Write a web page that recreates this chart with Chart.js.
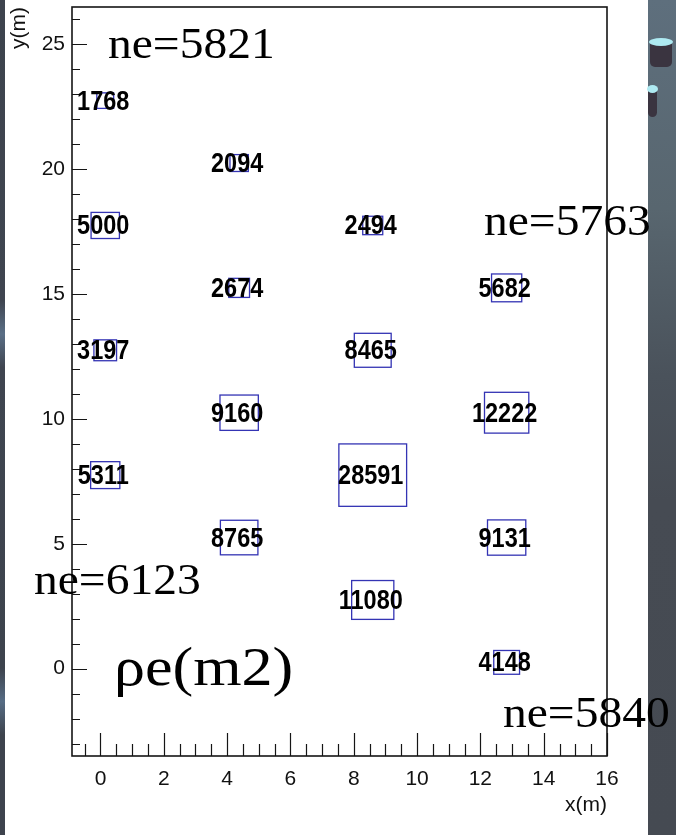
<!DOCTYPE html>
<html>
<head>
<meta charset="utf-8">
<title>ρe(m2)</title>
<script src="https://cdn.jsdelivr.net/npm/chart.js@4.4.1/dist/chart.umd.min.js"></script>
<style>
  html, body { margin: 0; padding: 0; }
  body { width: 676px; height: 835px; position: relative; overflow: hidden; background: #fff; }
  #leftStrip { position: absolute; left: 0; top: 0; width: 5px; height: 835px;
    background: linear-gradient(#3d434d 0%, #3f4550 36%, #5a6f86 40%, #3f4550 44%, #3d434d 80%, #566c84 84%, #3d434d 88%); }
  #rightStrip { position: absolute; left: 648px; top: 0; width: 28px; height: 835px;
    background: linear-gradient(#5e6f7d 0%, #58666f 25%, #4a525b 45%, #464b53 60%, #454a52 100%); }
  .cyl { position: absolute; background: #3a3440; border-radius: 0 0 5px 5px; }
  .cyl::before { content: ''; position: absolute; left: -1px; right: -1px; top: -4px; height: 8px;
    border-radius: 50%; background: #aeeaf2; }
  #c { position: absolute; left: 0; top: 0; }
</style>
</head>
<body>
<div id="leftStrip"></div>
<div id="rightStrip"></div>
<div class="cyl" style="left:650px; top:42px; width:22px; height:25px;"></div>
<div class="cyl" style="left:648px; top:89px; width:9px; height:28px;"></div>
<canvas id="c" width="676" height="835"></canvas>
<script>
// Detector positions (m) and electron counts per detector
const detX = [0.15, 4.38, 0.15, 8.6, 4.38, 12.83, 0.15, 8.6, 4.38, 12.83, 0.15, 8.6, 4.38, 12.83, 8.6, 12.83];
const detY = [22.75, 20.25, 17.75, 17.75, 15.25, 15.25, 12.75, 12.75, 10.25, 10.25, 7.75, 7.75, 5.25, 5.25, 2.75, 0.25];
const counts = [1768, 2094, 5000, 2494, 2674, 5682, 3197, 8465, 9160, 12222, 5311, 28591, 8765, 9131, 11080, 4148];

// Axis tick labels
const xTickValues = [0, 2, 4, 6, 8, 10, 12, 14, 16];
const yTickValues = [0, 5, 10, 15, 20, 25];

// Annotations
const neLabels = ['ne=5821', 'ne=5763', 'ne=6123', 'ne=5840'];
const densityLabel = 'ρe(m2)';

// Cell size (m) of the largest box; other boxes scale with sqrt(count)
const CELL_W = 2.14;
const CELL_H = 2.5;

const SANS = '"Liberation Sans", Arial, Helvetica, sans-serif';
const SERIF = '"Liberation Serif", "Times New Roman", serif';

const points = counts.map((v, i) => ({ x: detX[i], y: detY[i], v }));

// Frame and inward ticks, ROOT style
const framePlugin = {
  id: 'frame',
  beforeDatasetsDraw(chart) {
    const { ctx, chartArea: a, scales: { x: xs, y: ys } } = chart;
    ctx.save();
    ctx.strokeStyle = '#151515';
    ctx.lineWidth = 1.2;
    ctx.beginPath();
    for (let v = -0.5; v <= 16.001; v += 0.5) {
      const major = Math.abs(v / 2 - Math.round(v / 2)) < 1e-6;
      const px = Math.round(xs.getPixelForValue(v)) + 0.5;
      const len = major ? 23 : 12;
      ctx.moveTo(px, a.bottom);
      ctx.lineTo(px, a.bottom - len);
    }
    for (let v = -3; v <= 26; v += 1) {
      const major = v % 5 === 0;
      const py = Math.round(ys.getPixelForValue(v)) + 0.5;
      const len = major ? 15 : 8;
      ctx.moveTo(a.left, py);
      ctx.lineTo(a.left + len, py);
    }
    ctx.stroke();
    ctx.lineWidth = 1.6;
    ctx.strokeRect(a.left, a.top, a.right - a.left, a.bottom - a.top);
    ctx.restore();
  }
};

// Boxes (area proportional to count) with the count written on top
const cellPlugin = {
  id: 'cells',
  afterDatasetsDraw(chart) {
    const { ctx, scales: { x: xs, y: ys } } = chart;
    const data = chart.data.datasets[0].data;
    const vmax = Math.max(...data.map(p => p.v));
    ctx.save();
    ctx.strokeStyle = '#3434b4';
    ctx.lineWidth = 1.3;
    data.forEach(p => {
      const f = Math.sqrt(p.v / vmax);
      const hw = CELL_W / 2 * f, hh = CELL_H / 2 * f;
      const x0 = xs.getPixelForValue(p.x - hw), x1 = xs.getPixelForValue(p.x + hw);
      const y0 = ys.getPixelForValue(p.y + hh), y1 = ys.getPixelForValue(p.y - hh);
      ctx.strokeRect(x0, y0, x1 - x0, y1 - y0);
    });
    ctx.fillStyle = '#000';
    ctx.font = 'bold 23.5px ' + SANS;
    ctx.textAlign = 'center';
    ctx.textBaseline = 'middle';
    data.forEach(p => {
      const px = xs.getPixelForValue(p.x), py = ys.getPixelForValue(p.y);
      ctx.save();
      ctx.translate(px - 2, py);
      ctx.scale(1, 1.2);
      ctx.fillText(String(p.v), 0, 1);
      ctx.restore();
    });
    ctx.restore();
  }
};

// Large serif annotations over the plot
const notePlugin = {
  id: 'notes',
  afterDraw(chart) {
    const { ctx } = chart;
    const place = [[108, 58], [484, 235], [34, 594], [503, 727]];
    ctx.save();
    ctx.fillStyle = '#000';
    ctx.textAlign = 'left';
    ctx.textBaseline = 'alphabetic';
    ctx.font = '44px ' + SERIF;
    neLabels.forEach((t, i) => {
      ctx.save();
      ctx.translate(place[i][0], place[i][1]);
      ctx.scale(1.08, 1);
      ctx.fillText(t, 0, 0);
      ctx.restore();
    });
    ctx.font = '54px ' + SERIF;
    ctx.translate(114, 685);
    ctx.scale(1.15, 1);
    ctx.fillText(densityLabel, 0, 0);
    ctx.restore();
  }
};

const tickFont = { family: SANS, size: 21 };

new Chart(document.getElementById('c'), {
  type: 'scatter',
  data: {
    datasets: [{
      data: points,
      pointRadius: 0,
      pointHoverRadius: 0,
      showLine: false
    }]
  },
  options: {
    responsive: false,
    animation: false,
    events: [],
    layout: { padding: { top: 7, right: 69, left: 0, bottom: 0 } },
    plugins: { legend: { display: false }, tooltip: { enabled: false } },
    scales: {
      x: {
        type: 'linear',
        min: -0.9,
        max: 16,
        afterBuildTicks: s => { s.ticks = xTickValues.map(value => ({ value })); },
        afterFit: s => { s.height = 79; s.paddingLeft = 0; s.paddingRight = 0; },
        grid: { display: false, drawTicks: false },
        border: { display: false },
        ticks: { color: '#111', font: tickFont, padding: 11, maxRotation: 0, autoSkip: false },
        title: { display: true, text: 'x(m)', align: 'end', color: '#111', font: tickFont, padding: { top: 0, bottom: 17 } }
      },
      y: {
        type: 'linear',
        min: -3.5,
        max: 26.5,
        afterBuildTicks: s => { s.ticks = yTickValues.map(value => ({ value })); },
        afterFit: s => { s.width = 72; s.paddingTop = 0; s.paddingBottom = 0; },
        grid: { display: false, drawTicks: false },
        border: { display: false },
        ticks: { color: '#111', font: tickFont, padding: 7, autoSkip: false },
        title: { display: true, text: 'y(m)', align: 'end', color: '#111', font: tickFont, padding: { top: 7, bottom: 0 } }
      }
    }
  },
  plugins: [framePlugin, cellPlugin, notePlugin]
});
</script>
</body>
</html>
